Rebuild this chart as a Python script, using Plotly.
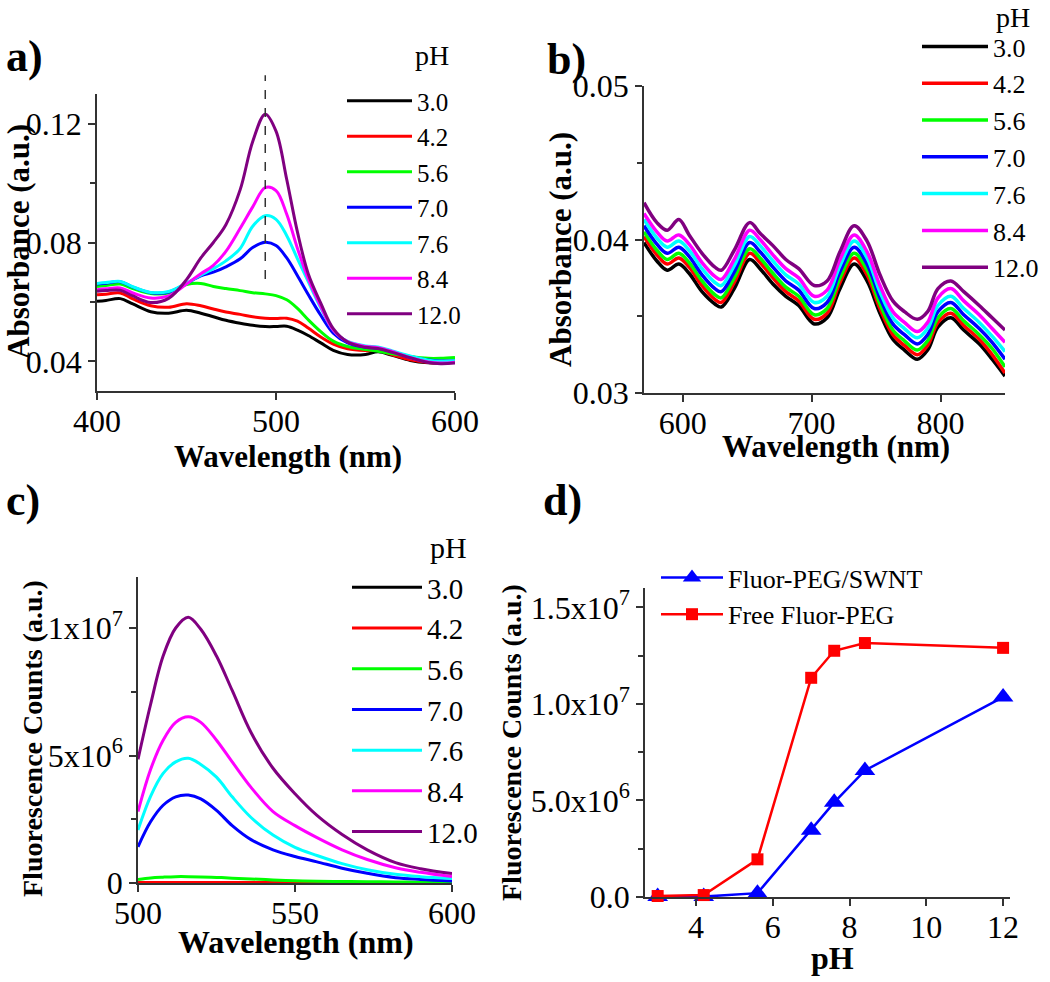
import plotly.graph_objects as go

FONT = "Liberation Serif"

ph_labels = ["3.0", "4.2", "5.6", "7.0", "7.6", "8.4", "12.0"]
colors = ["#000000", "#FF0000", "#00FF00", "#0000FF", "#00FFFF", "#FF00FF", "#800080"]

# ---------------- panel a: absorbance 400-600 nm ----------------
wl_a = [400, 405, 413, 420, 430, 440, 450, 458, 465, 472, 480, 487, 494, 500, 506,
        512, 518, 525, 532, 540, 550, 557, 565, 575, 585, 592, 600]
abs_a_30 = [0.0602, 0.0605, 0.0611, 0.0593, 0.0567, 0.0562, 0.0572, 0.0562, 0.0550, 0.0538, 0.0528, 0.0521, 0.0517, 0.0517,
            0.0518, 0.0505, 0.0487, 0.0462, 0.0437, 0.0423, 0.0423, 0.0432, 0.0420, 0.0403, 0.0395, 0.0394, 0.0397]
abs_a_42 = [0.0624, 0.0626, 0.0630, 0.0610, 0.0587, 0.0582, 0.0594, 0.0587, 0.0576, 0.0566, 0.0558, 0.0550, 0.0545, 0.0544,
            0.0545, 0.0535, 0.0512, 0.0482, 0.0458, 0.0442, 0.0436, 0.0436, 0.0422, 0.0405, 0.0396, 0.0394, 0.0397]
abs_a_56 = [0.0652, 0.0655, 0.0660, 0.0645, 0.0628, 0.0630, 0.0658, 0.0662, 0.0652, 0.0645, 0.0638, 0.0631, 0.0627, 0.0621,
            0.0607, 0.0578, 0.0540, 0.0500, 0.0468, 0.0450, 0.0440, 0.0434, 0.0425, 0.0416, 0.0410, 0.0410, 0.0413]
abs_a_70 = [0.0660, 0.0663, 0.0668, 0.0650, 0.0631, 0.0633, 0.0662, 0.0688, 0.0700, 0.0718, 0.0745, 0.0783, 0.0801, 0.0790,
            0.0748, 0.0688, 0.0625, 0.0555, 0.0495, 0.0462, 0.0447, 0.0444, 0.0432, 0.0416, 0.0404, 0.0401, 0.0402]
abs_a_76 = [0.0662, 0.0665, 0.0669, 0.0651, 0.0632, 0.0635, 0.0663, 0.0690, 0.0712, 0.0738, 0.0780, 0.0855, 0.0890, 0.0878,
            0.0823, 0.0745, 0.0668, 0.0580, 0.0505, 0.0467, 0.0452, 0.0448, 0.0435, 0.0418, 0.0404, 0.0400, 0.0402]
abs_a_84 = [0.0641, 0.0644, 0.0647, 0.0630, 0.0613, 0.0620, 0.0660, 0.0695, 0.0723, 0.0770, 0.0848, 0.0920, 0.0985, 0.0975,
            0.0895, 0.0780, 0.0678, 0.0585, 0.0505, 0.0466, 0.0450, 0.0446, 0.0433, 0.0412, 0.0398, 0.0394, 0.0397]
abs_a_120 = [0.0636, 0.0638, 0.0639, 0.0620, 0.0598, 0.0612, 0.0675, 0.0748, 0.0800, 0.0860, 0.0978, 0.1140, 0.1232, 0.1175,
             0.1012, 0.0835, 0.0695, 0.0596, 0.0510, 0.0465, 0.0447, 0.0443, 0.0430, 0.0412, 0.0396, 0.0392, 0.0394]
series_a = [abs_a_30, abs_a_42, abs_a_56, abs_a_70, abs_a_76, abs_a_84, abs_a_120]
peak_wl_a = 494

# ---------------- panel b: absorbance 570-850 nm ----------------
wl_b = [570, 580, 588, 597, 605, 615, 625, 630, 640, 652, 660, 670, 680, 690, 702,
        712, 722, 733, 743, 753, 763, 772, 782, 790, 798, 808, 818, 830, 840, 850]
abs_b_30 = [0.0398, 0.0386, 0.0380, 0.0384, 0.0378, 0.0366, 0.0358, 0.0356, 0.0368, 0.0387, 0.0381, 0.0371, 0.0363, 0.0357, 0.0345,
            0.0349, 0.0368, 0.0384, 0.0373, 0.0352, 0.0335, 0.0328, 0.0322, 0.0328, 0.0343, 0.0349, 0.0341, 0.0332, 0.0322, 0.0311]
abs_b_42 = [0.0402, 0.0390, 0.0384, 0.0388, 0.0382, 0.0370, 0.0361, 0.0359, 0.0372, 0.0391, 0.0385, 0.0375, 0.0366, 0.0360, 0.0348,
            0.0352, 0.0372, 0.0388, 0.0377, 0.0355, 0.0338, 0.0331, 0.0325, 0.0331, 0.0346, 0.0352, 0.0344, 0.0335, 0.0325, 0.0313]
abs_b_56 = [0.0405, 0.0393, 0.0387, 0.0391, 0.0385, 0.0373, 0.0364, 0.0362, 0.0375, 0.0394, 0.0388, 0.0378, 0.0369, 0.0363, 0.0351,
            0.0355, 0.0375, 0.0391, 0.0380, 0.0358, 0.0341, 0.0334, 0.0328, 0.0334, 0.0349, 0.0355, 0.0347, 0.0338, 0.0329, 0.0317]
abs_b_70 = [0.0409, 0.0397, 0.0391, 0.0395, 0.0389, 0.0377, 0.0368, 0.0366, 0.0379, 0.0398, 0.0392, 0.0382, 0.0373, 0.0367, 0.0355,
            0.0359, 0.0379, 0.0395, 0.0384, 0.0362, 0.0345, 0.0338, 0.0332, 0.0338, 0.0353, 0.0359, 0.0351, 0.0342, 0.0333, 0.0322]
abs_b_76 = [0.0413, 0.0401, 0.0395, 0.0399, 0.0393, 0.0381, 0.0372, 0.0370, 0.0383, 0.0402, 0.0396, 0.0386, 0.0377, 0.0371, 0.0359,
            0.0363, 0.0383, 0.0399, 0.0388, 0.0366, 0.0349, 0.0342, 0.0336, 0.0342, 0.0357, 0.0363, 0.0355, 0.0346, 0.0337, 0.0327]
abs_b_84 = [0.0417, 0.0405, 0.0399, 0.0403, 0.0397, 0.0385, 0.0376, 0.0374, 0.0387, 0.0406, 0.0400, 0.0390, 0.0381, 0.0375, 0.0363,
            0.0367, 0.0387, 0.0403, 0.0392, 0.0370, 0.0353, 0.0346, 0.0340, 0.0346, 0.0362, 0.0368, 0.0360, 0.0351, 0.0342, 0.0333]
abs_b_120 = [0.0424, 0.0411, 0.0406, 0.0413, 0.0403, 0.0391, 0.0382, 0.0380, 0.0393, 0.0411, 0.0404, 0.0396, 0.0387, 0.0381, 0.0370,
             0.0373, 0.0392, 0.0409, 0.0399, 0.0377, 0.0360, 0.0353, 0.0348, 0.0353, 0.0368, 0.0373, 0.0366, 0.0357, 0.0349, 0.0341]
series_b = [abs_b_30, abs_b_42, abs_b_56, abs_b_70, abs_b_76, abs_b_84, abs_b_120]

# ---------------- panel c: fluorescence spectra ----------------
wl_c = [500, 504, 508, 512, 516, 520, 525, 530, 536, 543, 550, 557, 565, 573, 582, 590, 600]
fl_c_30 = [0.005e6, 0.005e6, 0.005e6, 0.005e6, 0.005e6, 0.005e6, 0.005e6, 0.005e6, 0.004e6, 0.004e6, 0.003e6, 0.003e6, 0.003e6, 0.002e6, 0.002e6, 0.002e6, 0.002e6]
fl_c_42 = [0.015e6, 0.018e6, 0.02e6, 0.02e6, 0.02e6, 0.02e6, 0.019e6, 0.018e6, 0.016e6, 0.014e6, 0.012e6, 0.01e6, 0.009e6, 0.008e6, 0.007e6, 0.006e6, 0.005e6]
fl_c_56 = [0.14e6, 0.2e6, 0.23e6, 0.25e6, 0.25e6, 0.24e6, 0.22e6, 0.19e6, 0.16e6, 0.12e6, 0.09e6, 0.07e6, 0.06e6, 0.05e6, 0.04e6, 0.03e6, 0.03e6]
fl_c_70 = [1.42e6, 2.4e6, 3.05e6, 3.38e6, 3.45e6, 3.3e6, 2.85e6, 2.25e6, 1.7e6, 1.3e6, 1.04e6, 0.83e6, 0.58e6, 0.38e6, 0.21e6, 0.14e6, 0.08e6]
fl_c_76 = [2.08e6, 3.4e6, 4.3e6, 4.75e6, 4.89e6, 4.65e6, 4.15e6, 3.38e6, 2.57e6, 1.88e6, 1.4e6, 1.08e6, 0.76e6, 0.52e6, 0.34e6, 0.25e6, 0.18e6]
fl_c_84 = [2.8e6, 4.45e6, 5.6e6, 6.3e6, 6.52e6, 6.3e6, 5.6e6, 4.75e6, 3.75e6, 2.8e6, 2.25e6, 1.78e6, 1.3e6, 0.92e6, 0.6e6, 0.42e6, 0.25e6]
fl_c_120 = [4.85e6, 7.0e6, 8.9e6, 10.0e6, 10.42e6, 9.95e6, 8.9e6, 7.55e6, 5.9e6, 4.5e6, 3.5e6, 2.65e6, 1.9e6, 1.3e6, 0.8e6, 0.56e6, 0.37e6]
series_c = [fl_c_30, fl_c_42, fl_c_56, fl_c_70, fl_c_76, fl_c_84, fl_c_120]

# ---------------- panel d: peak fluorescence vs pH ----------------
ph_d = [3.0, 4.2, 5.6, 7.0, 7.6, 8.4, 12.0]
fl_swnt = [0.02e6, 0.02e6, 0.2e6, 3.45e6, 4.9e6, 6.55e6, 10.35e6]
fl_free = [0.05e6, 0.1e6, 1.95e6, 11.35e6, 12.75e6, 13.15e6, 12.9e6]

W, H = 1050, 982


def px(x):
    return x / W


def py(y):
    return 1 - y / H


fig = go.Figure()

for lab, col, ys in zip(ph_labels, colors, series_a):
    fig.add_trace(go.Scatter(x=wl_a, y=ys, mode="lines", name=lab, line=dict(color=col, width=3, shape="spline"),
                             xaxis="x", yaxis="y", legend="legend"))
for lab, col, ys in zip(ph_labels, colors, series_b):
    fig.add_trace(go.Scatter(x=wl_b, y=ys, mode="lines", name=lab, line=dict(color=col, width=3.5, shape="spline"),
                             xaxis="x2", yaxis="y2", legend="legend2"))
for lab, col, ys in zip(ph_labels, colors, series_c):
    fig.add_trace(go.Scatter(x=wl_c, y=ys, mode="lines", name=lab, line=dict(color=col, width=3, shape="spline"),
                             xaxis="x3", yaxis="y3", legend="legend3"))
fig.add_trace(go.Scatter(x=ph_d, y=fl_swnt, mode="lines+markers", name="Fluor-PEG/SWNT",
                         line=dict(color="#0000FF", width=2.5), marker=dict(symbol="triangle-up", size=18, color="#0000FF"),
                         cliponaxis=False, xaxis="x4", yaxis="y4", legend="legend4"))
fig.add_trace(go.Scatter(x=ph_d, y=fl_free, mode="lines+markers", name="Free Fluor-PEG",
                         line=dict(color="#FF0000", width=2.5), marker=dict(symbol="square", size=12, color="#FF0000"),
                         cliponaxis=False, xaxis="x4", yaxis="y4", legend="legend4"))

TICKSIZE = 32


def axis(domain, rng, anchor, dtick, **kw):
    d = dict(domain=domain, range=rng, anchor=anchor, dtick=dtick, showline=True, linecolor="#333", linewidth=1.5,
             ticks="outside", ticklen=7, tickwidth=1.5, tickcolor="#333", showgrid=False, zeroline=False,
             automargin=False, tickfont=dict(family=FONT, size=TICKSIZE, color="black"))
    d.update(kw)
    return d


minor_y = lambda dt: dict(ticks="outside", ticklen=5, tickwidth=1.5, tickcolor="#333", dtick=dt, showgrid=False)


def legend(x, y, size, iw):
    return dict(x=px(x), y=py(y), xanchor="left", yanchor="top", font=dict(family=FONT, size=size, color="black"),
                bgcolor="rgba(0,0,0,0)", itemwidth=iw)


XSTAND = -6

fig.update_layout(
    template="none",
    width=W, height=H, margin=dict(l=0, r=0, t=0, b=0, autoexpand=False), paper_bgcolor="white", plot_bgcolor="white",
    font=dict(family=FONT, color="black"),
    # panel a
    xaxis=axis([px(97), px(455)], [400, 600], "y", 100, ticklabelstandoff=XSTAND),
    yaxis=axis([py(391), py(94)], [0.03, 0.13], "x", 0.04, tick0=0, tickformat=".2f", minor=minor_y(0.02)),
    # panel b
    xaxis2=axis([px(644), px(1005)], [570, 850], "y2", 100, tick0=0, ticklabelstandoff=XSTAND),
    yaxis2=axis([py(393), py(86)], [0.03, 0.05], "x2", 0.01, tick0=0, tickformat=".2f", minor=minor_y(0.005)),
    # panel c
    xaxis3=axis([px(138), px(452)], [500, 600], "y3", 50, tick0=0, ticklabelstandoff=XSTAND),
    yaxis3=axis([py(883), py(577)], [0, 1.2e7], "x3", None, tickmode="array", tickvals=[0, 5e6, 1e7],
                ticktext=["0", "5x10<sup>6</sup>", "1x10<sup>7</sup>"],
                minor=dict(ticks="outside", ticklen=5, tickwidth=1.5, tickcolor="#333", tickvals=[2.5e6, 7.5e6])),
    # panel d
    xaxis4=axis([px(645), px(1010)], [2.67, 12.18], "y4", 2, tick0=0, ticklabelstandoff=XSTAND),
    yaxis4=axis([py(897), py(588)], [0, 1.6e7], "x4", None, tickmode="array", tickvals=[0, 5e6, 1e7, 1.5e7],
                ticktext=["0.0", "5.0x10<sup>6</sup>", "1.0x10<sup>7</sup>", "1.5x10<sup>7</sup>"],
                minor=dict(ticks="outside", ticklen=5, tickwidth=1.5, tickcolor="#333", tickvals=[2.5e6, 7.5e6, 1.25e7])),
    legend=legend(342, 78, 25, 65),
    legend2=legend(917, 23, 26, 66),
    legend3=legend(347, 562, 29, 70),
    legend4=legend(656, 554, 26, 62),
    showlegend=True,
)

# dashed marker of the absorption peak in panel a
fig.add_shape(type="line", xref="x", yref="y domain", x0=peak_wl_a, x1=peak_wl_a, y0=0.377, y1=1.063,
              line=dict(color="#333", width=1.5, dash="dash"))

# axis titles, panel letters and legend titles
texts = [
    ("<b>Wavelength (nm)</b>", 288, 456, 31, 0),
    ("<b>Absorbance (a.u.)</b>", 18, 242, 31, -90),
    ("<b>Wavelength (nm)</b>", 836, 447, 31, 0),
    ("<b>Absorbance (a.u.)</b>", 561, 250, 31, -90),
    ("<b>Wavelength (nm)</b>", 296, 942, 32, 0),
    ("<b>Fluorescence Counts (a.u.)</b>", 32, 739, 28, -90),
    ("<b>pH</b>", 832, 958, 32, 0),
    ("<b>Fluorescence Counts (a.u.)</b>", 511, 743, 28, -90),
    ("<b>a)</b>", 24, 56, 44, 0),
    ("<b>b)</b>", 566, 59, 44, 0),
    ("<b>c)</b>", 23, 500, 44, 0),
    ("<b>d)</b>", 562, 500, 44, 0),
    ("pH", 432, 55, 28, 0),
    ("pH", 1013, 18, 28, 0),
    ("pH", 448, 547, 30, 0),
]
for txt, x, y, size, ang in texts:
    fig.add_annotation(x=px(x), y=py(y), xref="paper", yref="paper", showarrow=False, text=txt, textangle=ang,
                       font=dict(family=FONT, size=size, color="black"), xanchor="center", yanchor="middle")

fig.write_html("out.html", config={"displayModeBar": False},
               post_script="document.body.style.margin='0px';document.body.style.overflow='hidden';")
